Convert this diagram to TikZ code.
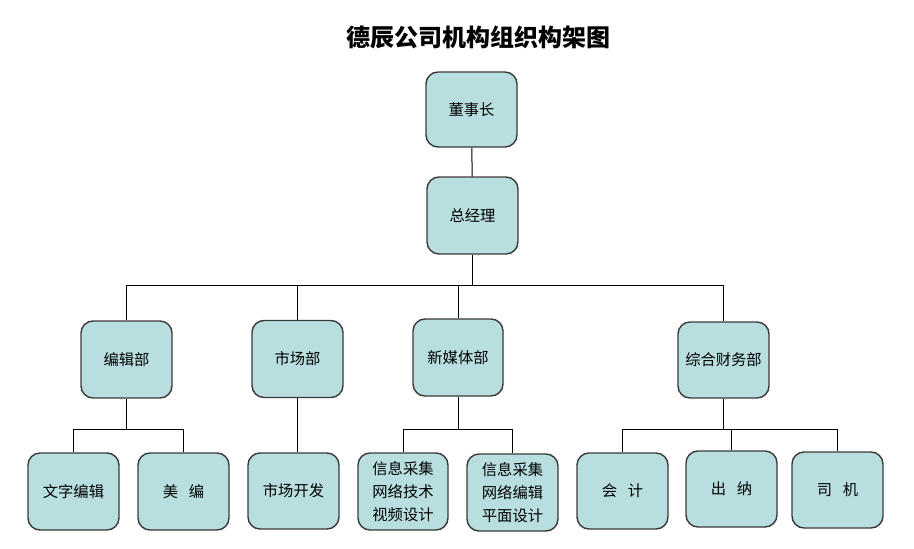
\documentclass[tikz,border=0pt]{standalone}
\usepackage{fontspec}
\setmainfont{Noto Sans CJK SC}
\definecolor{boxfill}{HTML}{B8DEE0}
\definecolor{boxdraw}{HTML}{3A3A3A}
\begin{document}
\begin{tikzpicture}[x=1pt,y=-1pt,
  box/.style={draw=boxdraw,fill=boxfill,line width=1.4pt,rounded corners=12pt,
    minimum width=91pt,minimum height=76pt,inner sep=0pt,align=center,
    font=\fontsize{15.3}{23.3}\selectfont},
  conn/.style={draw=black,line width=1pt}]
\useasboundingbox (0,0) rectangle (914,549);
\node[font=\fontsize{24}{28}\selectfont\bfseries] (title) at (478,37) {德辰公司机构组织构架图};
\node[box,minimum height=75pt] (dsz) at (471.5,109.5) {董事长};
\node[box,minimum height=77pt] (zjl) at (472.5,215.5) {总经理};
\node[box,minimum height=77pt] (bjb) at (126.5,359.5) {编辑部};
\node[box,minimum height=77pt] (scb) at (297.5,359) {市场部};
\node[box,minimum width=90pt,minimum height=77pt] (xmt) at (458,357.5) {新媒体部};
\node[box] (zcw) at (723.5,360) {综合财务部};
\node[box,minimum height=77pt] (wzbj) at (73.5,491.5) {文字编辑};
\node[box,minimum height=77pt] (mb) at (183.5,491.5) {美\hspace{0.7em}编};
\node[box] (sckf) at (293.5,491) {市场开发};
\node[box,minimum width=90pt,minimum height=77pt] (xx1) at (403,491.5) {信息采集\\网络技术\\视频设计};
\node[box,minimum height=77pt] (xx2) at (512.5,492.5) {信息采集\\网络编辑\\平面设计};
\node[box] (kj) at (622.5,491) {会\hspace{0.7em}计};
\node[box] (cn) at (731.5,489) {出\hspace{0.7em}纳};
\node[box] (sj) at (837.5,490) {司\hspace{0.7em}机};
\coordinate (bus) at (0,285);
\coordinate (busa) at (0,429);
\draw[conn] (dsz) -- (zjl);
\draw[conn] (zjl.south) -- (zjl.south |- bus);
\draw[conn] (bjb.north) -- (bjb.north |- bus) -- (zcw.north |- bus) -- (zcw.north);
\draw[conn] (scb.north) -- (scb.north |- bus);
\draw[conn] (xmt.north) -- (xmt.north |- bus);
\draw[conn] (bjb.south) -- (bjb.south |- busa);
\draw[conn] (wzbj.north) -- (wzbj.north |- busa) -- (mb.north |- busa) -- (mb.north);
\draw[conn] (scb.south) -- (scb.south |- sckf.north);
\draw[conn] (xmt.south) -- (xmt.south |- busa);
\draw[conn] (xx1.north) -- (xx1.north |- busa) -- (xx2.north |- busa) -- (xx2.north);
\draw[conn] (zcw.south) -- (zcw.south |- busa);
\draw[conn] (kj.north) -- (kj.north |- busa) -- (sj.north |- busa) -- (sj.north);
\draw[conn] (cn.north) -- (cn.north |- busa);
\end{tikzpicture}
\end{document}
